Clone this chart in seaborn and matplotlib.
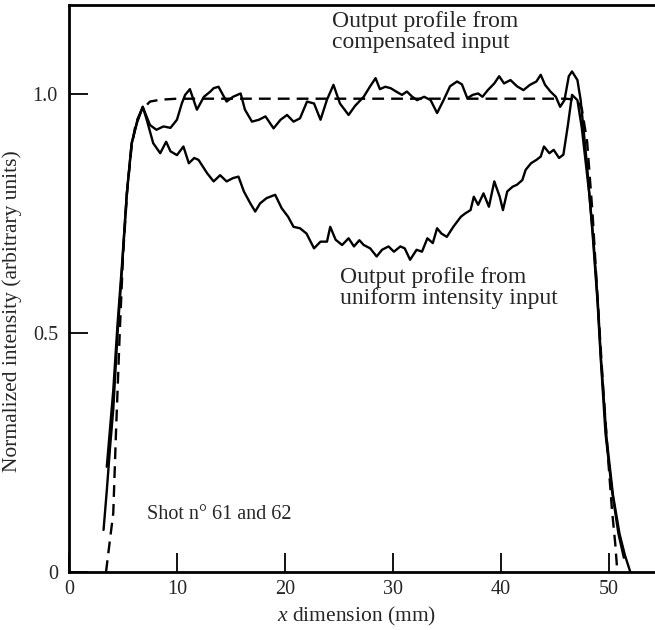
import matplotlib
matplotlib.use("Agg")
import matplotlib.pyplot as plt
import seaborn as sns
import pandas as pd

sns.set_style("ticks")
plt.rcParams["font.family"] = ["Liberation Serif", "DejaVu Serif"]
plt.rcParams["mathtext.fontset"] = "custom"
plt.rcParams["mathtext.it"] = "Liberation Serif:italic"
plt.rcParams["mathtext.rm"] = "Liberation Serif"

# ---- data ----
comp_x = [3.5, 3.8, 4.1, 4.5, 4.9, 5.35, 5.8, 6.3, 6.83,
          7.5, 8.1, 8.75, 9.4, 10.0, 10.45, 10.76, 11.2, 11.5, 11.85, 12.5, 13.1, 13.4, 13.85,
          14.6, 15.2, 15.9, 16.3, 16.95, 17.6, 18.2, 18.95, 19.6, 20.2, 20.8, 21.4, 22.05,
          22.7, 23.3, 23.9, 24.5, 25.1, 25.9, 26.5, 27.3, 27.9, 28.4, 28.8, 29.3, 29.8, 30.3,
          30.85, 31.3, 31.8, 32.25, 32.9, 33.5, 34.1, 34.7, 35.3, 35.95, 36.4, 36.9, 37.4,
          37.9, 38.3, 38.8, 39.4, 39.85, 40.3, 40.9, 41.5, 42.1, 42.7, 43.3, 43.7, 44.1, 44.6,
          45.1, 45.5, 45.9, 46.3, 46.6, 47.1, 47.4, 47.7, 48.0, 48.5, 48.95, 49.25, 49.7,
          50.3, 50.9, 51.4]
comp_y = [0.22, 0.30, 0.38, 0.52, 0.64, 0.79, 0.895, 0.942, 0.973,
          0.935, 0.925, 0.932, 0.929, 0.946, 0.980, 0.998, 1.010, 0.990, 0.967, 0.994, 1.005, 1.012, 1.015,
          0.984, 0.994, 1.001, 0.967, 0.942, 0.946, 0.953, 0.928, 0.946, 0.956, 0.942, 0.949, 0.984,
          0.980, 0.946, 0.988, 1.019, 0.980, 0.956, 0.975, 0.994, 1.016, 1.033, 1.010, 1.015, 1.012, 1.005,
          0.998, 1.005, 0.994, 0.987, 0.994, 0.987, 0.960, 0.987, 1.016, 1.026, 1.020, 0.991, 0.998,
          1.001, 0.994, 1.008, 1.022, 1.037, 1.022, 1.029, 1.016, 1.008, 1.019, 1.026, 1.040, 1.019, 1.005,
          0.994, 0.973, 0.987, 1.037, 1.047, 1.029, 0.987, 0.918, 0.848, 0.709, 0.569, 0.45, 0.29,
          0.17, 0.08, 0.03]

unif_x = [3.2, 3.5, 3.8, 4.1, 4.5, 4.9, 5.35, 5.8, 6.3, 6.83,
          7.2, 7.8, 8.45, 9.0, 9.4, 10.0, 10.6, 11.1, 11.6, 12.0, 12.8, 13.4, 14.0, 14.6, 15.2,
          15.7, 16.2, 16.8, 17.25, 17.7, 18.3, 19.1, 19.7, 20.3, 20.8, 21.4, 22.0, 22.7, 23.3,
          23.9, 24.2, 24.7, 25.3, 25.9, 26.4, 26.9, 27.3, 27.9, 28.5, 29.0, 29.6, 30.1, 30.7,
          31.1, 31.6, 32.2, 32.7, 33.2, 33.7, 34.1, 34.5, 35.0, 35.6, 36.3, 36.7, 37.2, 37.5,
          37.9, 38.4, 38.9, 39.4, 39.9, 40.2, 40.6, 41.1, 41.5, 42.0, 42.3, 42.8, 43.3, 43.7,
          44.0, 44.5, 44.9, 45.4, 45.8, 46.2, 46.6, 47.1, 47.5, 47.8, 48.2, 48.6, 49.0, 49.3,
          49.8, 50.4, 51.0, 51.5, 52.0]
unif_y = [0.088, 0.17, 0.26, 0.34, 0.50, 0.63, 0.79, 0.897, 0.94, 0.973,
          0.946, 0.897, 0.876, 0.900, 0.880, 0.872, 0.890, 0.855, 0.866, 0.862, 0.834, 0.817, 0.830, 0.817, 0.824,
          0.827, 0.796, 0.771, 0.754, 0.771, 0.782, 0.789, 0.761, 0.743, 0.722, 0.719, 0.708, 0.677, 0.691,
          0.691, 0.722, 0.695, 0.684, 0.698, 0.681, 0.694, 0.684, 0.677, 0.660, 0.674, 0.681, 0.670, 0.681,
          0.677, 0.653, 0.674, 0.670, 0.698, 0.688, 0.719, 0.708, 0.701, 0.722, 0.743, 0.750, 0.757, 0.785,
          0.768, 0.792, 0.764, 0.817, 0.785, 0.757, 0.796, 0.806, 0.810, 0.820, 0.841, 0.855, 0.862, 0.869,
          0.890, 0.876, 0.883, 0.866, 0.873, 0.932, 0.998, 0.987, 0.930, 0.870, 0.790, 0.690, 0.560, 0.440,
          0.280, 0.160, 0.080, 0.035, 0.0]

theo_x = [3.43, 3.7, 4.1, 4.36, 4.7, 5.0, 5.4, 5.8, 6.2, 6.7, 7.5, 8.5, 10, 20, 30, 40, 46,
          47.0, 47.5, 48.0, 48.5, 49.0, 49.5, 50.0, 50.3, 50.6, 50.8]
theo_y = [0.0, 0.05, 0.123, 0.297, 0.5, 0.66, 0.80, 0.89, 0.94, 0.965, 0.984, 0.988, 0.99, 0.99,
          0.99, 0.99, 0.99, 0.988, 0.97, 0.90, 0.75, 0.56, 0.38, 0.22, 0.13, 0.06, 0.0]

x_ticks = [0, 10, 20, 30, 40, 50]
y_ticks = [0, 0.5, 1.0]
y_tick_labels = ["0", "0.5", "1.0"]

label_comp = "Output profile from\ncompensated input"
label_unif = "Output profile from\nuniform intensity input"
label_shot = "Shot n° 61 and 62"

# ---- figure ----
fig = plt.figure(figsize=(6.55, 6.30), dpi=100)
ax = fig.add_axes([69 / 655, 58 / 630, 1 - 69 / 655 + 0.02, 567 / 630])

df_c = pd.DataFrame({"x": comp_x, "y": comp_y})
df_u = pd.DataFrame({"x": unif_x, "y": unif_y})
df_t = pd.DataFrame({"x": theo_x, "y": theo_y})

sns.lineplot(data=df_t, x="x", y="y", ax=ax, sort=False, estimator=None,
             color="black", linewidth=1.7, linestyle=(0, (5, 3)))
sns.lineplot(data=df_u, x="x", y="y", ax=ax, sort=False, estimator=None,
             color="black", linewidth=1.7)
sns.lineplot(data=df_c, x="x", y="y", ax=ax, sort=False, estimator=None,
             color="black", linewidth=1.7)

ax.set_xlim(0, 55.5)
ax.set_ylim(0, 1.186)
ax.set_xticks(x_ticks)
ax.set_yticks(y_ticks)
ax.set_yticklabels(y_tick_labels)
ax.tick_params(direction="in", length=14, width=1.3, labelsize=14.5, pad=6, color="black")
ax.tick_params(axis="y", pad=8)

for s in ["left", "bottom", "top"]:
    ax.spines[s].set_linewidth(2.0)
    ax.spines[s].set_color("black")
ax.spines["right"].set_visible(False)

ax.set_xlabel("$x$ dimension (mm)", fontsize=15.5)
ax.set_ylabel("Normalized intensity (arbitrary units)", fontsize=15.5)
ax.xaxis.set_label_coords(0.48, -0.058)
ax.yaxis.set_label_coords(-0.078, 0.46)

ax.text(24.4, 1.174, label_comp, fontsize=17, va="top", ha="left", linespacing=1.0)
ax.text(25.1, 0.638, label_unif, fontsize=17, va="top", ha="left", linespacing=1.0)
ax.text(7.2, 0.12, label_shot, fontsize=14.5, va="center", ha="left")

fig.savefig("out.png", dpi=100)
